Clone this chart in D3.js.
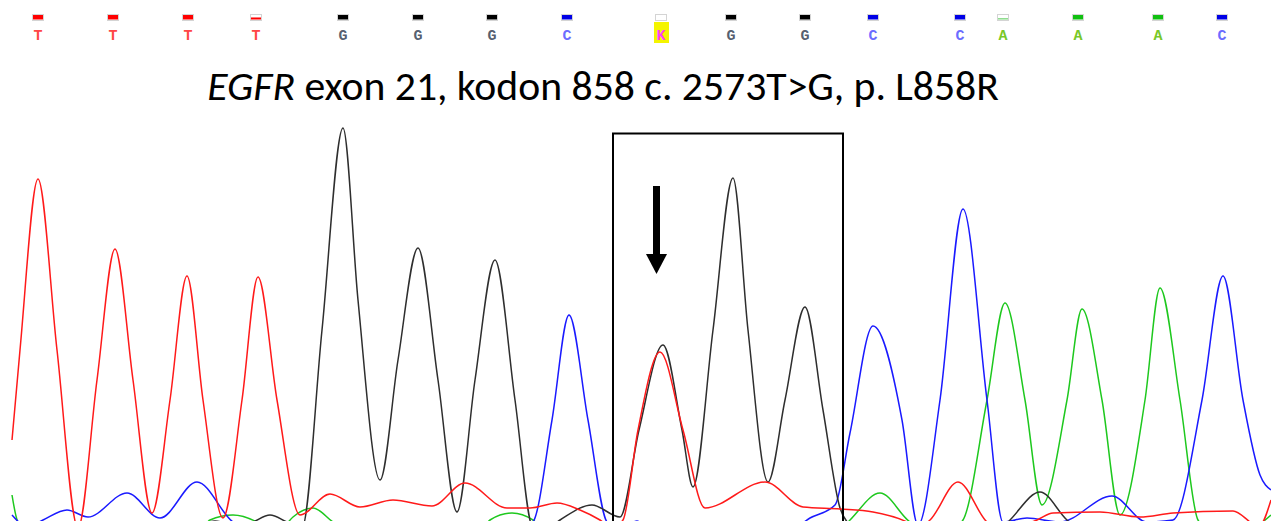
<!DOCTYPE html>
<html>
<head>
<meta charset="utf-8">
<script src="https://cdn.jsdelivr.net/npm/d3@7"></script>
<style>
  html, body { margin: 0; padding: 0; background: #fff; }
  svg { display: block; }
</style>
</head>
<body>
<script>
const width = 1271, height = 521;

// base calls
const bases = ["T","T","T","T","G","G","G","C","K","G","G","C","C","A","A","A","C"];
const basePos = [38, 113, 188, 256, 343, 418, 492, 567, 661, 731, 805, 873, 960, 1003, 1078, 1158, 1222];
const baseQual = [40, 40, 40, 18, 40, 40, 40, 40, 0, 40, 40, 40, 40, 12, 40, 40, 40];

// traces: [scan position, signal]
const traceA = [[12,30],[18,3],[30,-5],[200,-5],[210,5],[233,10],[257,3],[270,-5],[285,0],[293,8],[313,17],
  [333,3],[345,-5],[480,-5],[490,5],[512,12],[533,5],[545,-5],[840,-5],[850,5],[880,32],[910,3],[925,-5],
  [950,-5],[963,5],[987,125],[1005,222],[1025,125],[1042,20],[1067,125],[1082,216],[1102,125],[1120,10],
  [1145,125],[1160,237],[1180,125],[1198,5],[1210,-5],[1250,-3],[1271,10]];
const traceC = [[12,10],[28,-2],[43,5],[67,15],[88,8],[127,32],[160,7],[197,43],[233,3],[250,-5],[520,-5],
  [533,3],[552,105],[569,210],[588,105],[607,3],[620,-5],[637,4],[650,-5],[790,-5],[810,7],[835,20],[850,92],
  [873,199],[902,105],[918,0],[940,125],[963,316],[987,125],[1003,3],[1027,7],[1060,3],[1112,29],[1147,3],
  [1173,5],[1202,125],[1223,249],[1243,125],[1260,50],[1271,35]];
const traceG = [[12,-5],[190,-3],[215,4],[240,-2],[253,3],[270,10],[287,3],[302,-3],[322,195],[343,397],
  [358,225],[380,45],[398,165],[418,277],[438,145],[457,13],[475,145],[495,265],[515,125],[533,-3],[545,-5],
  [560,5],[592,20],[620,8],[639,95],[663,180],[682,95],[693,38],[713,195],[733,347],[748,195],[768,43],
  [785,125],[805,218],[823,115],[840,17],[850,0],[860,-5],[1000,-5],[1010,5],[1040,33],[1067,5],[1080,-5],
  [1271,-5]];
const traceT = [[12,85],[20,175],[38,346],[57,175],[78,-3],[97,145],[115,276],[133,145],[152,12],[170,125],
  [187,249],[203,125],[223,7],[242,125],[258,248],[277,125],[300,10],[330,31],[360,18],[393,25],[432,19],
  [465,42],[507,17],[530,17],[557,22],[580,15],[600,5],[612,-3],[623,5],[638,95],[660,173],[683,95],[705,17],
  [765,43],[803,18],[840,16],[873,13],[907,3],[918,-3],[930,5],[958,43],[987,3],[1000,-5],[1037,5],[1053,12],
  [1100,13],[1140,8],[1173,12],[1233,14],[1250,3],[1258,-3],[1271,25]];

const traceColor = { A: "#1ec81e", C: "#1a1aff", G: "#2e2e2e", T: "#ff1a1a" };
const letterColor = { A: "#78c828", C: "#6c6cff", G: "#566070", T: "#ff4646", K: "#ff3cff" };
const barColor = { A: "#10c010", C: "#0000e6", G: "#000000", T: "#ff0000", K: "#ffffff" };

const svg = d3.select("body").append("svg")
    .attr("width", width)
    .attr("height", height);

const x = d3.scaleLinear().domain([0, 1271]).range([0, width]);
const y = d3.scaleLinear().domain([0, 400]).range([525, 125]);
const qh = d3.scaleLinear().domain([0, 40]).range([0, 4.5]);

// quality bars
const calls = svg.selectAll(".call")
    .data(bases)
    .enter()
    .append("g")
    .attr("class", "call")
    .attr("transform", (d, i) => "translate(" + x(basePos[i]) + ",0)");

calls.append("rect")
    .attr("x", -5.5).attr("y", 14.5)
    .attr("width", 11).attr("height", 6)
    .attr("fill", "#fff")
    .attr("stroke", "#d4d4d4")
    .attr("stroke-width", 1);
calls.append("rect")
    .attr("x", -5).attr("width", 10)
    .attr("y", (d, i) => 19.5 - qh(baseQual[i]))
    .attr("height", (d, i) => qh(baseQual[i]))
    .attr("fill", (d, i) => baseQual[i] < 20 && d === "A" ? "#7ed87e" : barColor[d]);

calls.filter(d => d === "K").append("rect")
    .attr("x", -7).attr("y", 22)
    .attr("width", 15).attr("height", 21)
    .attr("fill", "#f4f400");

calls.append("text")
    .attr("y", 40)
    .attr("text-anchor", "middle")
    .style("font-family", "'Liberation Mono', monospace")
    .style("font-size", "15px")
    .style("font-weight", "bold")
    .attr("fill", d => letterColor[d])
    .text(d => d);

// title
const title = svg.append("text")
    .attr("x", 603)
    .attr("y", 100)
    .attr("text-anchor", "middle")
    .style("font-family", "Carlito, Calibri, 'Open Sans', sans-serif")
    .style("font-size", "32px")
    .attr("fill", "#000");
title.append("tspan").style("font-style", "italic").text("EGFR");
title.append("tspan").text(" exon 21, kodon 858 c. 2573T>G, p. L858R");
const tw = title.node().getComputedTextLength();
title.style("font-size", (32 * 792 / tw) + "px");

// traces
const line = d3.line()
    .x(d => x(d[0]))
    .y(d => y(d[1]))
    .curve(d3.curveMonotoneX);

const traces = [["A", traceA], ["C", traceC], ["G", traceG], ["T", traceT]];
svg.selectAll(".trace")
    .data(traces)
    .enter()
    .append("path")
    .attr("class", "trace")
    .attr("fill", "none")
    .attr("stroke", d => traceColor[d[0]])
    .attr("stroke-width", 1.5)
    .attr("d", d => line(d[1]));

// highlight box and arrow
svg.append("rect")
    .attr("x", 613).attr("y", 133.5)
    .attr("width", 230).attr("height", 400)
    .attr("fill", "none")
    .attr("stroke", "#000")
    .attr("stroke-width", 2);

svg.append("rect")
    .attr("x", 653).attr("y", 186)
    .attr("width", 7).attr("height", 70)
    .attr("fill", "#000");
svg.append("path")
    .attr("d", "M646,254L667,254L656.5,274Z")
    .attr("fill", "#000");
</script>
</body>
</html>
